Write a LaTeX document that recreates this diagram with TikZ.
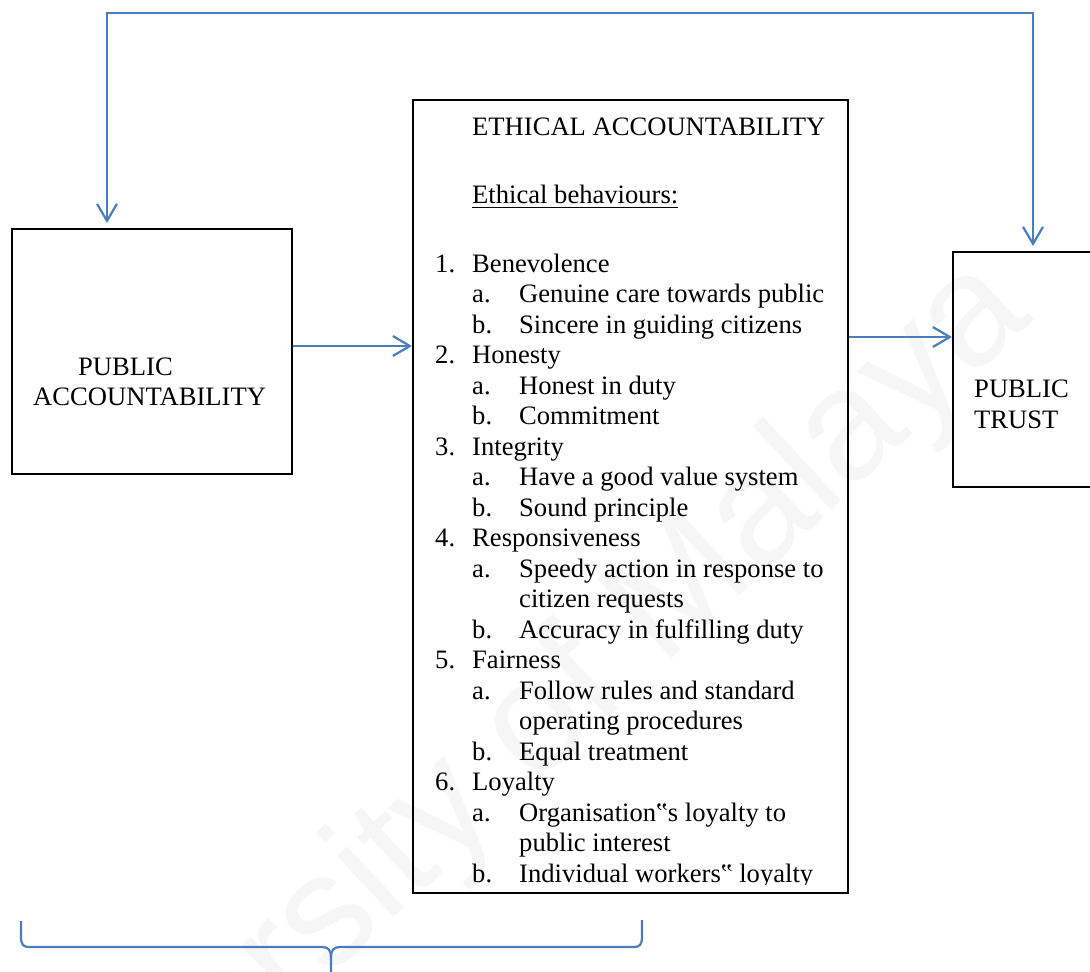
\documentclass[tikz,border=0pt]{standalone}
\usepackage{fontspec}
\setmainfont{Liberation Serif}
\newfontfamily\wmfont{Liberation Sans}
\usetikzlibrary{arrows.meta}
\definecolor{linkblue}{RGB}{74,126,187}

% rows of the list inside the middle box (row index -> baseline)
\newcommand\rowy[1]{272+30.5*#1}
\newcommand\numrow[3]{%
  \node[txt] (num#1) at (435,{\rowy{#1}}) {#2};
  \node[txt] (lab#1) at (472,{\rowy{#1}}) {#3};}
\newcommand\subrow[3]{%
  \node[txt] (sub#1) at (472,{\rowy{#1}}) {#2};
  \node[txt] (lab#1) at (519,{\rowy{#1}}) {#3};}
\newcommand\controw[2]{%
  \node[txt] (lab#1) at (519,{\rowy{#1}}) {#2};}

\begin{document}
\begin{tikzpicture}[x=1pt,y=-1pt,
  txt/.style={anchor=base west, inner sep=0pt, font=\fontsize{26.6}{30.5}\selectfont},
  boxframe/.style={draw=black, line width=2pt, inner sep=0pt},
  barb/.tip={Straight Barb[length=17pt,width=20pt]},
  conn/.style={draw=linkblue, line width=2.2pt, -barb},
  twoway/.style={draw=linkblue, line width=2.2pt, barb-barb},
  bracket/.style={draw=linkblue, line width=2.2pt, line join=round}]
\useasboundingbox (0,0) rectangle (1090,972);
\clip (0,0) rectangle (1090,972);
\fill[white] (0,0) rectangle (1090,972);

% watermark
\node[anchor=base west, inner sep=0pt, rotate=43, text=gray!7,
      font=\wmfont\fontsize{158}{158}\selectfont] (wm) at (-5,1290) {University of Malaya};

% boxes
\node[boxframe, minimum width=280pt, minimum height=245pt] (pa) at (152,351.5) {};
\node[boxframe, minimum width=435pt, minimum height=793pt] (mid) at (630.5,496.5) {};
\node[boxframe, minimum width=160pt, minimum height=235pt] (pt) at (1033,369.5) {};

% labels of the side boxes
\node[txt] (paA) at (78,375) {PUBLIC};
\node[txt] (paB) at (33,405) {ACCOUNTABILITY};
\node[txt] (ptA) at (974,397) {PUBLIC};
\node[txt] (ptB) at (974,428) {TRUST};

% contents of the middle box
\begin{scope}
\clip (413,100) rectangle (848,884);
\node[txt] (title) at (472,135) {ETHICAL ACCOUNTABILITY};
\node[txt] (eb) at (472,203) {Ethical behaviours:};
\draw[line width=1.7pt] ([yshift=-4.5pt]eb.base west) -- ([yshift=-4.5pt]eb.base east);
\numrow{0}{1.}{Benevolence}
\subrow{1}{a.}{Genuine care towards public}
\subrow{2}{b.}{Sincere in guiding citizens}
\numrow{3}{2.}{Honesty}
\subrow{4}{a.}{Honest in duty}
\subrow{5}{b.}{Commitment}
\numrow{6}{3.}{Integrity}
\subrow{7}{a.}{Have a good value system}
\subrow{8}{b.}{Sound principle}
\numrow{9}{4.}{Responsiveness}
\subrow{10}{a.}{Speedy action in response to}
\controw{11}{citizen requests}
\subrow{12}{b.}{Accuracy in fulfilling duty}
\numrow{13}{5.}{Fairness}
\subrow{14}{a.}{Follow rules and standard}
\controw{15}{operating procedures}
\subrow{16}{b.}{Equal treatment}
\numrow{17}{6.}{Loyalty}
\subrow{18}{a.}{Organisation‟s loyalty to}
\controw{19}{public interest}
\subrow{20}{b.}{Individual workers‟ loyalty}
\end{scope}

% connectors
\coordinate (a1) at ([yshift=5.5pt]pa.east);
\draw[conn] (a1) -- (a1 -| mid.west);
\coordinate (a2) at (mid.east |- 0,337);
\draw[conn] (a2) -- (a2 -| pt.west);
\coordinate (topline) at (570,13);
\draw[twoway, shorten <=5pt, shorten >=5pt]
  ([xshift=-45pt]pa.north) |- (topline) -| (pt.north);

% bracket under the boxes
\draw[bracket] (21,921) -- (21,936) .. controls (21,945) and (23,947) .. (30,947)
  -- (322,947) .. controls (328,947) and (331,950) .. (331,957) -- (331,980);
\draw[bracket] (331,957) .. controls (331,950) and (334,947) .. (340,947)
  -- (633,947) .. controls (640,947) and (642,945) .. (642,936) -- (642,920);
\end{tikzpicture}
\end{document}
